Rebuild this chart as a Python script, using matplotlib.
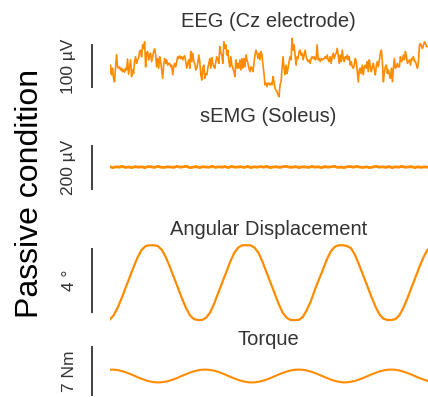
import numpy as np
import matplotlib
matplotlib.use("Agg")
import matplotlib.pyplot as plt
import matplotlib.transforms as mtransforms

plt.rcParams['font.family'] = ['Liberation Sans', 'DejaVu Sans']

# ---------------- data ----------------
eeg_uv = [
    -17, 2, -20, -5, -28, -36, -5, 26, -2, -5, -2, -9, -5, -13, -9, -14, -5, -9, 16, -19,
    -2, 14, -24, -9, -17, 10, 21, 6, 14, 17, 33, 36, 21, 48, 40, 55, -2, 29, 33, 14,
    25, 29, 10, 21, 33, 39, 25, -2, 17, -5, 21, 10, -9, -28, 2, 17, 6, 14, 2, 6,
    6, -2, 2, -20, -2, 6, -2, 10, 21, 17, 23, 17, 21, 14, 21, 23, 10, -5, 6, 14,
    -5, 33, 10, 29, 10, 6, -9, -5, 6, 25, 10, -20, -32, -5, 2, -28, -17, -20, -5, 6,
    17, -5, 19, 6, -2, -5, 10, 21, 14, 6, 44, 29, 25, 6, 55, 40, 48, 25, 36, 10,
    -2, 21, 2, -5, -13, -24, 14, -5, 6, -5, 14, -9, 17, -5, 17, -2, 25, 14, 6, -5,
    -13, -2, -5, -13, 6, 25, 36, 29, 17, 29, 14, 33, 25, 2, -17, -43, -39, -47, -39, -39,
    -43, -39, -43, -24, -36, -51, -55, -58, -66, -70, -43, -36, -5, 21, -5, -20, 2, -17, -5, 10,
    21, 14, 63, 36, 48, 25, 2, 21, 17, 33, 36, 25, 29, 14, 25, 36, 21, 14, 10, 14,
    6, 17, 21, 17, 21, 14, 17, 48,
    14, 17, 10, 17, 14, 16, 17, 21, 17, 25, 14, 10, 21, 6, 21, 29, 17, 25, 29, 40,
    25, 6, 25, 10, 36, 17, 10, 21, 17, 25, 14, 21, 2, 10, -2, -5, 2, 17, 10, -13,
    -36, -9, -5, -17, 2, -20, -2, 2, -5, 10, -13, 14, -2, -13, -2, 6, -9, -20, 2, 10,
    -2, 14, 29, 36, 10, -36, -13, -2, 2, -17, -9, -20, -28, -5, -36, -5, 17, -5, -2, 6,
    -2, -2, 21, 10, 14, 25, 14, 33, 21, 6, 10, 14, 2, 17, 14, 21, 10, 10, 2, -5,
    10, 48, 51, 44, 40, 48, 55, 51, 44, 44,
]

semg_uv = [
    2, -3, 1, -1, 3, -2, 0, -3, 2, -1, 1, -3, 2, 1, -2, 3, -1, -2, 1, 0,
    -2, 3, -1, 1, 3, -3, -1, 2, -3, 1, 0, -1, 3, -2, 1, -1, 2, -3, 3, -1,
    0, 1, -2, 3, -3, 1, -1, 2, -1, 3, -3, 0, 1, -2, 1, 3, -1, -1, 2, -3,
    1, 0, -2, 3, -1, 1, -3, 2, -1, 1, 3, -2, 0, -3, 1, 2, -1, 3, -1, -2,
    1, -3, 0, 3, -1, 1, -2, 2, -3, 1, -1, 3, -1, 0, 2, -3, 1, -2, 1, -1,
]

angle_deg = [
    0.0, 0.28, 0.74, 1.33, 1.98, 2.62, 3.27, 3.86, 4.32, 4.55,
    4.6, 4.6, 4.55, 4.32, 3.86, 3.27, 2.62, 1.98, 1.33, 0.74,
    0.28, 0.05, 0.0, 0.0, 0.14, 0.46, 1.01, 1.66, 2.3, 2.94,
    3.59, 4.14, 4.46, 4.6, 4.6, 4.6, 4.46, 4.14, 3.59, 2.94,
    2.3, 1.66, 1.01, 0.46, 0.14, 0.0, 0.0, 0.0, 0.18, 0.6,
    1.15, 1.84, 2.48, 3.08, 3.73, 4.23, 4.51, 4.6, 4.6, 4.55,
    4.42, 4.0, 3.4, 2.76, 2.12, 1.47, 0.87, 0.37, 0.09, 0.0,
    0.0, 0.05, 0.28, 0.74, 1.33, 1.98, 2.62, 3.27, 3.86, 4.32,
]

torque_nm = [
    0.89, 0.89, 0.83, 0.70, 0.53, 0.31, 0.08, -0.17, -0.40, -0.60,
    -0.76, -0.86, -0.90, -0.87, -0.79, -0.64, -0.45, -0.23, 0.02, 0.25,
    0.48, 0.66, 0.80, 0.88, 0.90, 0.85, 0.74, 0.58, 0.37, 0.14,
    -0.11, -0.34, -0.55, -0.72, -0.84, -0.90, -0.89, -0.81, -0.68, -0.50,
    -0.28, -0.04, 0.20, 0.42, 0.62, 0.77, 0.87, 0.90, 0.87, 0.77,
    0.62, 0.42, 0.20, -0.04, -0.28, -0.50, -0.68, -0.81, -0.89, -0.89,
    -0.81, -0.68, -0.50, -0.28, -0.04, 0.20, 0.42, 0.62, 0.77, 0.87,
    0.90, 0.87, 0.77, 0.62, 0.42, 0.20, -0.04, -0.28, -0.50, -0.68,
]

titles = ["EEG (Cz electrode)", "sEMG (Soleus)", "Angular Displacement", "Torque"]
scale_labels = ["100 µV", "200 µV", "4 °", "7 Nm"]
scale_sizes = [100, 200, 4, 7]
condition_label = "Passive condition"
duration_s = 3.4

# ---------------- layout ----------------
W, H = 428, 397
fig = plt.figure(figsize=(W / 100, H / 100), dpi=100)

LINE = '#ff8c00'
TEXT = '#333333'
BAR = '#404040'

x_left, x_right = 109.5, 427.5
# (top px, bottom px, baseline px, units per px, bar bottom value, title baseline px, linewidth)
panels = [
    (34, 102, 66, 100 / 44, -50, 27, 1.2),
    (140, 195, 167, 200 / 45, -100, 122, 2.0),
    (238, 327, 320, 4 / 65, 0.43, 235, 1.6),
    (350, 397, 376, 7 / 50, -2.8, 345, 1.5),
]
series = [eeg_uv, semg_uv, angle_deg, torque_nm]

bar_x = (92 - x_left) / (x_right - x_left)
lab_x = (69 - x_left) / (x_right - x_left)

for vals, (top, bot, base, u, bar0, tb, lw), title, lab, size in zip(
        series, panels, titles, scale_labels, scale_sizes):
    ax = fig.add_axes([x_left / W, 1 - bot / H, (x_right - x_left) / W, (bot - top) / H])
    t = np.linspace(0, duration_s, len(vals))
    ax.plot(t, vals, color=LINE, lw=lw, solid_joinstyle='round')
    ax.set_xlim(t[0], t[-1])
    ax.set_ylim(-(bot - base) * u, (base - top) * u)
    ax.axis('off')
    tr = mtransforms.blended_transform_factory(ax.transAxes, ax.transData)
    ax.plot([bar_x, bar_x], [bar0, bar0 + size], color=BAR, lw=1.4,
            transform=tr, clip_on=False, solid_capstyle='butt')
    ax.text(lab_x, bar0 + size / 2, lab, transform=tr, rotation=90,
            ha='center', va='center', fontsize=12.5, color=TEXT)
    fig.text((x_left + x_right) / 2 / W, 1 - tb / H, title, ha='center',
             va='baseline', fontsize=14.5, color=TEXT)

fig.text(30 / W, 1 - 193 / H, condition_label, rotation=90, ha='center',
         va='center', fontsize=23, color='black')

fig.savefig('out.png', dpi=100)
